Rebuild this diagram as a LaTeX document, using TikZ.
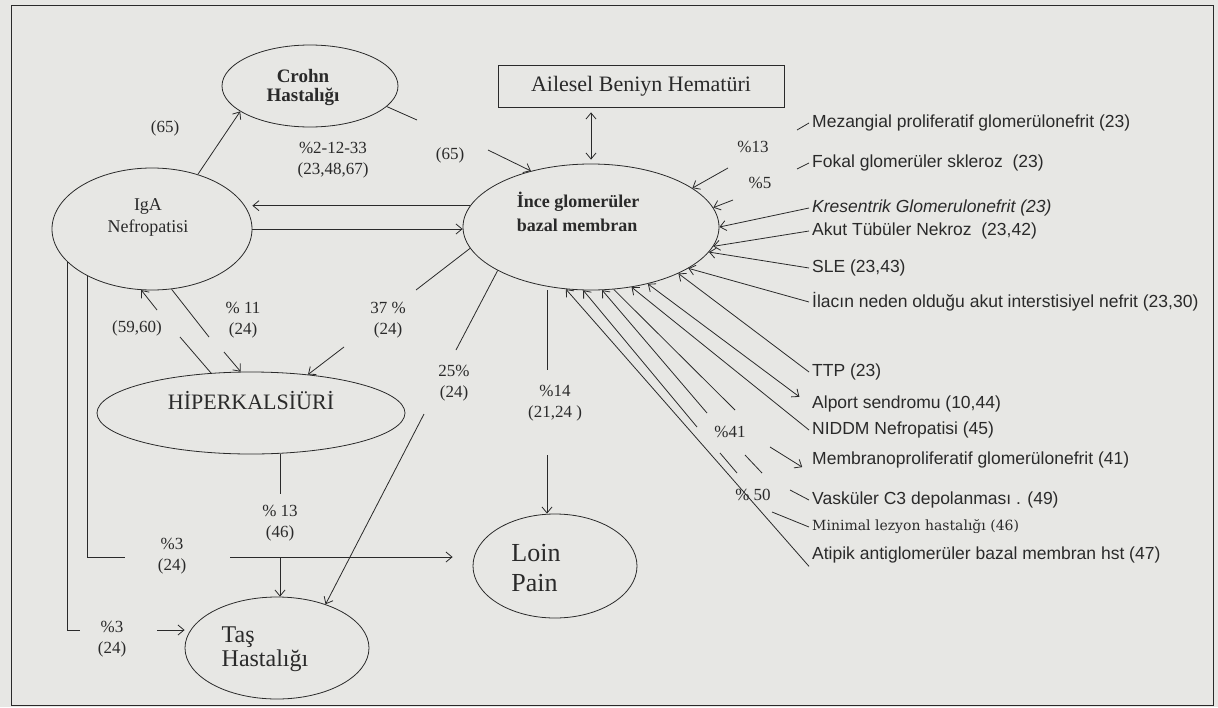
\documentclass[tikz,border=0pt]{standalone}
\usepackage{fontspec}
\setmainfont{Liberation Serif}
\newfontfamily\duzyazi{Liberation Sans}
\newfontfamily\dejayazi{DejaVu Serif}
\usetikzlibrary{shapes.geometric,arrows.meta}
\definecolor{kagit}{HTML}{E7E7E4}
\definecolor{murekkep}{HTML}{2A2A2A}
% metni elips icinde kaydirir: {dx}{dy}{hizalama}{metin}
\newcommand{\ortala}[4]{\raisebox{#2}[0pt][0pt]{\makebox[0pt]{\hspace*{#1}\hspace*{#1}\begin{tabular}{@{}#3@{}}#4\end{tabular}}}}

\begin{document}
\begin{tikzpicture}[x=1pt,y=-1pt,
   hastalik/.style={ellipse,draw=murekkep,line width=0.8pt,inner sep=0pt,text=murekkep},
   kutu/.style={rectangle,draw=murekkep,line width=0.8pt,inner sep=0pt,text=murekkep},
   oran/.style={align=center,inner sep=1pt,text=murekkep,font=\fontsize{17}{21}\selectfont},
   etiket/.style={anchor=west,inner sep=3pt,text=murekkep,font=\duzyazi\fontsize{17.5}{20}\selectfont},
   cizgi/.style={draw=murekkep,line width=0.8pt},
   >={Straight Barb[length=6pt,width=10pt]}]

  \useasboundingbox (0,0) rectangle (1218,707);
  \fill[kagit] (0,0) rectangle (1218,707);
  \draw[murekkep,line width=0.8pt] (11,5) rectangle (1213,705);

  % --- hastaliklar ---
  \node[hastalik,minimum width=176pt,minimum height=82pt,font=\bfseries\fontsize{19}{19}\selectfont]
    (crohn) at (310,86) {\ortala{-7pt}{-6.5pt}{c}{Crohn\\Hastalığı}};
  \node[hastalik,minimum width=200pt,minimum height=122pt,font=\fontsize{18}{22}\selectfont]
    (iga) at (152,229) {\ortala{-4pt}{8pt}{c}{IgA\\Nefropatisi}};
  \node[kutu,minimum width=286pt,minimum height=42pt,font=\fontsize{22}{24}\selectfont]
    (ailesel) at (641,86) {Ailesel Beniyn Hematüri};
  \node[hastalik,minimum width=256pt,minimum height=126pt,font=\bfseries\fontsize{18}{24}\selectfont]
    (ince) at (591,227) {\ortala{-13pt}{8pt}{l}{İnce glomerüler\\bazal membran}};
  \node[hastalik,minimum width=308pt,minimum height=82pt,font=\fontsize{22}{24}\selectfont]
    (hiper) at (251,413) {\ortala{0pt}{4pt}{c}{HİPERKALSİÜRİ}};
  \node[hastalik,minimum width=164pt,minimum height=104pt,font=\fontsize{26}{30}\selectfont]
    (loin) at (555,566) {\ortala{-19pt}{-11pt}{l}{Loin\\Pain}};
  \node[hastalik,minimum width=184pt,minimum height=102pt,font=\fontsize{24}{23}\selectfont]
    (tas) at (277,648) {\ortala{-12pt}{-8pt}{l}{Taş\\Hastalığı}};

  % --- IgA -> Crohn ---
  \node[oran] (n65a) at (165,128) {(65)};
  \draw[cizgi,->] (iga.50) -- (crohn.200);

  % --- Crohn -> ince ---
  \coordinate (k1) at (417,120);
  \coordinate (k2) at (488,150);
  \node[oran] (n65b) at (450,155) {(65)};
  \draw[cizgi] (crohn.-15) -- (k1);
  \draw[cizgi,->] (k2) -- (ince.137);

  % --- IgA <-> ince ---
  \node[oran] (n2) at (333,160) {\%2-12-33\\(23,48,67)};
  \draw[cizgi,->] (ince.170) -- (ince.170 -| iga.east);
  \draw[cizgi,->] (iga.east) -- (iga.east -| ince.west);
  \draw[cizgi,<->,shorten <=5pt,shorten >=4pt] (ince.north |- ailesel.south) -- (ince.north);

  % --- ince -> hiperkalsiuri ---
  \coordinate (k3) at (416,290);
  \coordinate (k4) at (344,347);
  \node[oran] (n37) at (388,320) {37 \%\\(24)};
  \draw[cizgi] (ince.190) -- (k3);
  \draw[cizgi,->] (k4) -- (hiper.34);

  % --- ince -> tas ---
  \coordinate (k5) at (456,350);
  \coordinate (k6) at (424,414);
  \node[oran] (n25) at (454,383) {25\%\\(24)};
  \draw[cizgi] (ince.205) -- (k5);
  \draw[cizgi,->] (k6) -- (tas.42);

  % --- ince -> loin ---
  \coordinate (k7) at (547,370);
  \coordinate (k8) at (547,455);
  \node[oran] (n14) at (555,403) {\%14\\(21,24 )};
  \draw[cizgi] (k7 |- ince.south) -- (k7);
  \draw[cizgi,->] (k8) -- (k8 |- loin.north);

  % --- hiperkalsiuri <-> IgA ---
  \coordinate (k9) at (180,337);
  \coordinate (k10) at (157,310);
  \node[oran] (n5960) at (137,328) {(59,60)};
  \draw[cizgi] (hiper.135) -- (k9);
  \draw[cizgi,->] (k10) -- (iga.260);
  \coordinate (k11) at (209,337);
  \coordinate (k12) at (224,352);
  \node[oran] (n11) at (243,320) {\% 11\\(24)};
  \draw[cizgi] (iga.288) -- (k11);
  \draw[cizgi,->] (k12) -- (hiper.104);

  % --- IgA -> loin ---
  \coordinate (k13) at (125,557);
  \coordinate (k14) at (230,557);
  \node[oran] (n3a) at (172,556) {\%3\\(24)};
  \draw[cizgi] (iga.216) |- (k13);
  \draw[cizgi,->,shorten >=20pt] (k14) -- (k14 -| loin.west);

  % --- hiperkalsiuri -> tas ---
  \coordinate (k17) at (280,494);
  \coordinate (k18) at (280,557);
  \node[oran] (n13b) at (280,523) {\% 13\\(46)};
  \draw[cizgi] (k17 |- hiper.south) -- (k17);
  \draw[cizgi,->] (k18) -- (k18 |- tas.north);

  % --- IgA -> tas ---
  \coordinate (k19) at (80,630);
  \coordinate (k20) at (157,630);
  \node[oran] (n3b) at (112,639) {\%3\\(24)};
  \draw[cizgi] (iga.201) |- (k19);
  \draw[cizgi,->] (k20) -- (k20 -| tas.west);

  % --- sag etiketler ---
  \node[etiket] (mez) at (809,123) {Mezangial proliferatif glomerülonefrit (23)};
  \node[etiket] (fok) at (809,163) {Fokal glomerüler skleroz\ \ (23)};
  \node[etiket,font=\duzyazi\itshape\fontsize{17.5}{20}\selectfont] (kre) at (809,208) {Kresentrik Glomerulonefrit (23)};
  \node[etiket] (aku) at (809,231) {Akut Tübüler Nekroz\ \ (23,42)};
  \node[etiket] (sle) at (809,268) {SLE (23,43)};
  \node[etiket] (ila) at (809,302) {İlacın neden olduğu akut interstisiyel nefrit (23,30)};
  \node[etiket] (ttp) at (809,372) {TTP (23)};
  \node[etiket] (alp) at (809,404) {Alport sendromu (10,44)};
  \node[etiket] (nid) at (809,430) {NIDDM Nefropatisi (45)};
  \node[etiket] (mem) at (809,460) {Membranoproliferatif glomerülonefrit (41)};
  \node[etiket] (vas) at (809,500) {Vasküler C3 depolanması . (49)};
  \node[etiket,font=\dejayazi\fontsize{14}{17}\selectfont] (minl) at (809,527) {Minimal lezyon hastalığı (46)};
  \node[etiket] (atp) at (809,555) {Atipik antiglomerüler bazal membran hst (47)};

  % --- sag oklar ---
  \coordinate (k21) at (797,130);
  \coordinate (k22) at (728,168);
  \node[oran] (n13) at (753,147) {\%13};
  \draw[cizgi] (mez.west) -- (k21);
  \draw[cizgi,->] (k22) -- (ince.21);
  \coordinate (k23) at (797,169);
  \coordinate (k24) at (733,200);
  \node[oran] (n5) at (760,183) {\%5};
  \draw[cizgi] (fok.west) -- (k23);
  \draw[cizgi,->] (k24) -- (ince.9);
  \draw[cizgi,->] (kre.west) -- (ince.0);
  \draw[cizgi,->] (aku.west) -- (ince.-9);
  \draw[cizgi,->] (sle.west) -- (ince.-12);
  \draw[cizgi,->] (ila.west) -- (ince.-23);
  \draw[cizgi,->] (ttp.west) -- (ince.-28);
  \draw[cizgi,<->,shorten >=12pt] (ince.-45) -- (alp.west);
  \draw[cizgi,<-] (ince.-56) -- (nid.west);

  % --- %41 ve % 50 ---
  \node[oran] (n41) at (730,432) {\%41};
  \node[oran] (n50) at (753,495) {\% 50};
  \coordinate (kd1) at (735,410);
  \coordinate (kd2) at (770,447);
  \draw[cizgi] (ince.-70) -- (kd1);
  \draw[cizgi,->,shorten >=8pt] (kd2) -- (mem.south west);
  \coordinate (kc1) at (707,413);
  \coordinate (kc2) at (745,455);
  \coordinate (kc3) at (762,473);
  \coordinate (kc4) at (790,490);
  \draw[cizgi,<-] (ince.-80) -- (kc1);
  \draw[cizgi] (kc2) -- (kc3);
  \draw[cizgi] (kc4) -- (vas.west);
  \coordinate (kb1) at (697,427);
  \coordinate (kb2) at (720,453);
  \coordinate (kb3) at (737,473);
  \coordinate (kb4) at (772,512);
  \draw[cizgi,<-] (ince.-97) -- (kb1);
  \draw[cizgi] (kb2) -- (kb3);
  \draw[cizgi] (kb4) -- (minl.west);
  \draw[cizgi,<-] (ince.-112) -- (atp.south west);
\end{tikzpicture}
\end{document}
